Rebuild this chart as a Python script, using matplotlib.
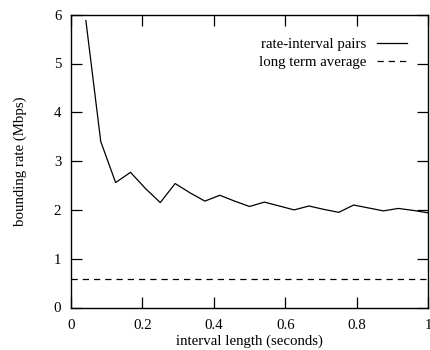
import matplotlib
matplotlib.use("Agg")
import matplotlib.pyplot as plt
import numpy as np

interval = [1/24 * i for i in range(1, 25)]
rate = [5.88, 3.40, 2.56, 2.77, 2.44, 2.15, 2.54, 2.35, 2.18, 2.30, 2.18, 2.07,
        2.16, 2.08, 2.00, 2.08, 2.01, 1.95, 2.10, 2.04, 1.98, 2.03, 1.99, 1.94]
long_term_avg = 0.58
xticks = [0, 0.2, 0.4, 0.6, 0.8, 1]
xticklabels = ["0", "0.2", "0.4", "0.6", "0.8", "1"]
yticks = [0, 1, 2, 3, 4, 5, 6]

FS = 10.7
plt.rcParams['font.family'] = ['Liberation Serif', 'DejaVu Serif']
fig = plt.figure(figsize=(4.3, 3.5), dpi=100)
ax = fig.add_axes([71/430, 1-307.5/350, (428-71)/430, (307.5-14.7)/350])

ax.plot(interval, rate, color='black', lw=0.9, label='rate-interval pairs')
ax.axhline(long_term_avg, color='black', lw=0.9, dashes=(5, 4), label='long term average')

ax.set_xlim(0, 1)
ax.set_ylim(0, 6)
ax.set_xticks(xticks)
ax.set_xticklabels(xticklabels)
ax.set_yticks(yticks)
ax.tick_params(direction='in', length=8, width=0.9, top=True, right=True, labelsize=FS)
ax.tick_params(axis='x', pad=8)
ax.tick_params(axis='y', pad=7)
for s in ax.spines.values():
    s.set_linewidth(1.0)

ax.set_xlabel('interval length (seconds)', fontsize=FS, labelpad=2)
ax.set_ylabel('bounding rate (Mbps)', fontsize=FS, labelpad=19.5)

leg = ax.legend(loc='upper right', bbox_to_anchor=((407-71)/357, (307.5-37.5)/292.8),
                frameon=False, markerfirst=False, fontsize=FS,
                handlelength=2.0, borderaxespad=0, borderpad=0, labelspacing=0.3,
                handletextpad=0.74)
for t in leg.get_texts():
    t.set_ha('right')

fig.savefig('out.png', dpi=100)
